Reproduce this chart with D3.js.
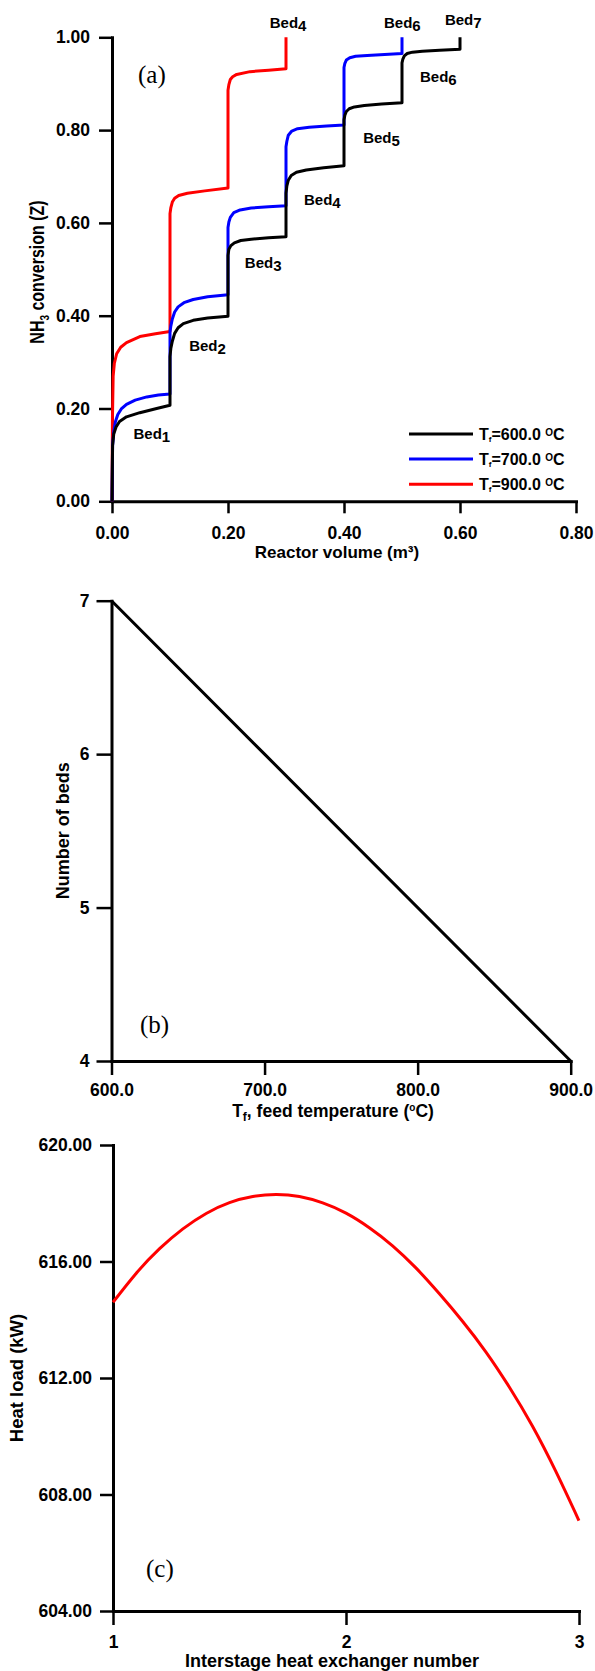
<!DOCTYPE html>
<html>

<head>
  <meta charset="utf-8" />
  <title>NH3 conversion, beds and heat load</title>
  <script src="https://cdnjs.cloudflare.com/ajax/libs/d3/7.8.5/d3.min.js"></script>
  <style>
    body {
      margin: 0;
      background: #fff;
    }

    svg {
      display: block;
      font-family: "Liberation Sans", Arial, sans-serif;
      font-weight: bold;
    }

    .axis path {
      fill: none;
      stroke: #000;
      stroke-width: 3px;
      stroke-linecap: square;
    }

    .axis line {
      stroke: #000;
      stroke-width: 2.5px;
    }

    .axis text {
      font-family: "Liberation Sans", Arial, sans-serif;
      font-size: 17.5px;
      font-weight: bold;
      fill: #000;
    }

    .curve {
      fill: none;
      stroke-width: 3px;
      stroke-linejoin: round;
    }

    .tag {
      font-family: "Liberation Serif", "Times New Roman", serif;
      font-weight: normal;
      font-size: 25px;
    }
  </style>
</head>

<body>
  <svg id="fig" width="595" height="1671"></svg>
  <script>
    // ---- (a) conversion profiles, [reactor volume m3, conversion Z] ----
    var conv600 = [
      [0, 0], [0.001, 0.12], [0.003, 0.145], [0.007, 0.160], [0.013, 0.172], [0.025, 0.182], [0.048, 0.191], [0.077, 0.200], [0.1, 0.207],
      [0.1, 0.312], [0.1015, 0.33], [0.104, 0.345], [0.108, 0.362], [0.114, 0.374], [0.123, 0.383], [0.14, 0.390], [0.165, 0.395], [0.2, 0.399],
      [0.2, 0.53], [0.2015, 0.543], [0.205, 0.551], [0.211, 0.557], [0.222, 0.562], [0.24, 0.565], [0.27, 0.568], [0.3, 0.570],
      [0.3, 0.664], [0.3015, 0.68], [0.304, 0.692], [0.309, 0.702], [0.318, 0.709], [0.335, 0.714], [0.365, 0.719], [0.4, 0.723],
      [0.4, 0.822], [0.4015, 0.832], [0.404, 0.840], [0.409, 0.846], [0.418, 0.850], [0.435, 0.853], [0.465, 0.856], [0.5, 0.859],
      [0.5, 0.945], [0.5015, 0.953], [0.504, 0.960], [0.509, 0.965], [0.518, 0.968], [0.535, 0.970], [0.565, 0.972], [0.6, 0.974],
      [0.6, 1.0]
    ];
    var conv700 = [
      [0, 0], [0.001, 0.12], [0.003, 0.150], [0.006, 0.172], [0.01, 0.187], [0.016, 0.199], [0.025, 0.209], [0.04, 0.218], [0.06, 0.225], [0.08, 0.229], [0.1, 0.231],
      [0.1, 0.365], [0.1015, 0.378], [0.104, 0.393], [0.108, 0.408], [0.114, 0.419], [0.124, 0.428], [0.14, 0.435], [0.165, 0.441], [0.2, 0.445],
      [0.2, 0.59], [0.2015, 0.602], [0.204, 0.612], [0.21, 0.622], [0.221, 0.628], [0.24, 0.632], [0.27, 0.635], [0.3, 0.637],
      [0.3, 0.764], [0.3015, 0.776], [0.304, 0.789], [0.31, 0.798], [0.32, 0.803], [0.34, 0.806], [0.37, 0.809], [0.4, 0.811],
      [0.4, 0.935], [0.4015, 0.944], [0.404, 0.951], [0.41, 0.956], [0.42, 0.959], [0.44, 0.961], [0.47, 0.963], [0.5, 0.965],
      [0.5, 1.0]
    ];
    var conv900 = [
      [0, 0], [0.0008, 0.18], [0.002, 0.27], [0.004, 0.297], [0.008, 0.318], [0.015, 0.332], [0.025, 0.342], [0.048, 0.355], [0.075, 0.361], [0.1, 0.366],
      [0.1, 0.62], [0.1015, 0.633], [0.104, 0.645], [0.108, 0.653], [0.115, 0.659], [0.13, 0.664], [0.16, 0.669], [0.2, 0.675],
      [0.2, 0.886], [0.2015, 0.898], [0.204, 0.909], [0.208, 0.915], [0.215, 0.920], [0.238, 0.926], [0.27, 0.929], [0.3, 0.932],
      [0.3, 1.0]
    ];
    var feedTemps = [600, 700, 900];
    var seriesColors = ['#000', '#0000ff', '#ff0000'];
    var volTicks = [0, 0.2, 0.4, 0.6, 0.8];
    var convTicks = [0, 0.2, 0.4, 0.6, 0.8, 1.0];
    // bed labels: [bed number, volume, conversion] anchor in data units
    var bedLabels = [
      [1, 0.037, 0.134], [2, 0.133, 0.325], [3, 0.229, 0.502], [4, 0.331, 0.639],
      [5, 0.433, 0.773], [6, 0.531, 0.904], [7, 0.574, 1.026], [6, 0.469, 1.019], [4, 0.272, 1.019]
    ];

    // ---- (b) number of beds vs feed temperature ----
    var tempB = [600, 700, 900];
    var bedsB = [7, 6, 4];
    var tempTicks = [600, 700, 800, 900];
    var bedTicks = [4, 5, 6, 7];

    // ---- (c) heat load vs interstage exchanger ----
    var exchN = [1.0, 1.1, 1.2, 1.3, 1.4, 1.5, 1.6, 1.7, 1.8, 1.9, 2.0, 2.1, 2.2, 2.3, 2.4, 2.5, 2.6, 2.7, 2.8, 2.9, 3.0];
    var heatLoad = [614.6, 615.6, 616.44, 617.12, 617.65, 618.02, 618.23, 618.3, 618.23, 618.01, 617.66, 617.16, 616.54, 615.78,
      614.9, 613.95, 612.9, 611.7, 610.35, 608.8, 607.1];
    var heatTicks = [604, 608, 612, 616, 620];
    var exchTicks = [1, 2, 3];

    var svg = d3.select('#fig');

    // ================= panel (a) =================
    var xA = d3.scaleLinear().domain([0, 0.8]).range([112, 576]);
    var yA = d3.scaleLinear().domain([0, 1]).range([501.3, 37.3]);
    var gA = svg.append('g');

    gA.append('g')
      .attr('class', 'axis')
      .attr('transform', 'translate(0,' + yA(0) + ')')
      .call(d3.axisBottom(xA).tickValues(volTicks).tickFormat(d3.format('.2f'))
        .tickSizeInner(12).tickSizeOuter(0).tickPadding(13));
    gA.append('g')
      .attr('class', 'axis')
      .attr('transform', 'translate(' + xA(0) + ',0)')
      .call(d3.axisLeft(yA).tickValues(convTicks).tickFormat(d3.format('.2f'))
        .tickSizeInner(13).tickSizeOuter(0).tickPadding(9));

    var lineA = d3.line().x(d => xA(d[0])).y(d => yA(d[1]));
    var convSeries = [conv600, conv700, conv900];
    // red under blue under black
    [2, 1, 0].forEach(function (i) {
      gA.append('path')
        .attr('class', 'curve')
        .attr('d', lineA(convSeries[i]))
        .attr('stroke', seriesColors[i]);
    });

    bedLabels.forEach(function (b) {
      var t = gA.append('text')
        .attr('x', xA(b[1]))
        .attr('y', yA(b[2]))
        .attr('font-size', 15);
      t.append('tspan').text('Bed');
      t.append('tspan').attr('dy', 3).text(b[0]);
    });

    // legend
    var leg = gA.append('g');
    feedTemps.forEach(function (tf, i) {
      var ly = 434 + i * 25.1;
      leg.append('line')
        .attr('x1', 409).attr('x2', 473)
        .attr('y1', ly).attr('y2', ly)
        .attr('stroke', seriesColors[i])
        .attr('stroke-width', 3);
      var t = leg.append('text')
        .attr('x', 479)
        .attr('y', ly + 6)
        .attr('font-size', 16);
      t.append('tspan').text('T');
      t.append('tspan').attr('font-size', 8).attr('dy', 2).text('f');
      t.append('tspan').attr('dy', -2).text('=' + d3.format('.1f')(tf) + ' ');
      t.append('tspan').attr('font-size', 10).attr('dy', -4).text('O');
      t.append('tspan').attr('dy', 4).text('C');
    });

    gA.append('text')
      .attr('x', 337).attr('y', 558)
      .attr('text-anchor', 'middle')
      .attr('font-size', 17)
      .text('Reactor volume (m\u00b3)');

    var ytA = gA.append('text')
      .attr('transform', 'translate(43.5,272) rotate(-90) scale(1,1.25)')
      .attr('text-anchor', 'middle')
      .attr('font-size', 16);
    ytA.append('tspan').text('NH');
    ytA.append('tspan').attr('font-size', 10).attr('dy', 4).text('3');
    ytA.append('tspan').attr('dy', -4).text(' conversion (Z)');

    gA.append('text').attr('class', 'tag').attr('x', 138).attr('y', 83).text('(a)');

    // ================= panel (b) =================
    var xB = d3.scaleLinear().domain([600, 900]).range([111.5, 570.7]);
    var yB = d3.scaleLinear().domain([4, 7]).range([1061, 600.7]);
    var gB = svg.append('g');

    gB.append('g')
      .attr('class', 'axis')
      .attr('transform', 'translate(0,' + yB(4) + ')')
      .call(d3.axisBottom(xB).tickValues(tempTicks).tickFormat(d3.format('.1f'))
        .tickSizeInner(14).tickSizeOuter(0).tickPadding(9));
    gB.append('g')
      .attr('class', 'axis')
      .attr('transform', 'translate(' + xB(600) + ',0)')
      .call(d3.axisLeft(yB).tickValues(bedTicks).tickFormat(d3.format('d'))
        .tickSizeInner(15).tickSizeOuter(0).tickPadding(7));

    gB.append('path')
      .attr('class', 'curve')
      .attr('stroke', '#000')
      .attr('stroke-width', 2.6)
      .attr('d', d3.line().x((d, i) => xB(tempB[i])).y(d => yB(d))(bedsB));

    var xtB = gB.append('text')
      .attr('x', 333).attr('y', 1117)
      .attr('text-anchor', 'middle')
      .attr('font-size', 17.5);
    xtB.append('tspan').text('T');
    xtB.append('tspan').attr('font-size', 12).attr('dy', 4).text('f');
    xtB.append('tspan').attr('dy', -4).text(', feed temperature (');
    xtB.append('tspan').attr('font-size', 10).attr('dy', -6).text('o');
    xtB.append('tspan').attr('dy', 6).text('C)');

    gB.append('text')
      .attr('transform', 'translate(69,' + ((yB(4) + yB(7)) / 2) + ') rotate(-90)')
      .attr('text-anchor', 'middle')
      .attr('font-size', 18)
      .text('Number of beds');

    gB.append('text').attr('class', 'tag').attr('x', 140).attr('y', 1033).text('(b)');

    // ================= panel (c) =================
    var xC = d3.scaleLinear().domain([1, 3]).range([113, 579]);
    var yC = d3.scaleLinear().domain([604, 620]).range([1611, 1145]);
    var gC = svg.append('g');

    gC.append('g')
      .attr('class', 'axis')
      .attr('transform', 'translate(0,' + yC(604) + ')')
      .call(d3.axisBottom(xC).tickValues(exchTicks).tickFormat(d3.format('d'))
        .tickSizeInner(14).tickSizeOuter(0).tickPadding(11));
    gC.append('g')
      .attr('class', 'axis')
      .attr('transform', 'translate(' + xC(1) + ',0)')
      .call(d3.axisLeft(yC).tickValues(heatTicks).tickFormat(d3.format('.2f'))
        .tickSizeInner(13).tickSizeOuter(0).tickPadding(8));

    gC.append('path')
      .attr('class', 'curve')
      .attr('stroke', '#ff0000')
      .attr('d', d3.line().curve(d3.curveNatural)
        .x((d, i) => xC(exchN[i])).y(d => yC(d))(heatLoad));

    gC.append('text')
      .attr('x', 332).attr('y', 1667)
      .attr('text-anchor', 'middle')
      .attr('font-size', 18)
      .text('Interstage heat exchanger number');

    gC.append('text')
      .attr('transform', 'translate(23,' + ((yC(604) + yC(620)) / 2) + ') rotate(-90)')
      .attr('text-anchor', 'middle')
      .attr('font-size', 18.5)
      .text('Heat load (kW)');

    gC.append('text').attr('class', 'tag').attr('x', 146).attr('y', 1577).text('(c)');
  </script>
</body>

</html>
